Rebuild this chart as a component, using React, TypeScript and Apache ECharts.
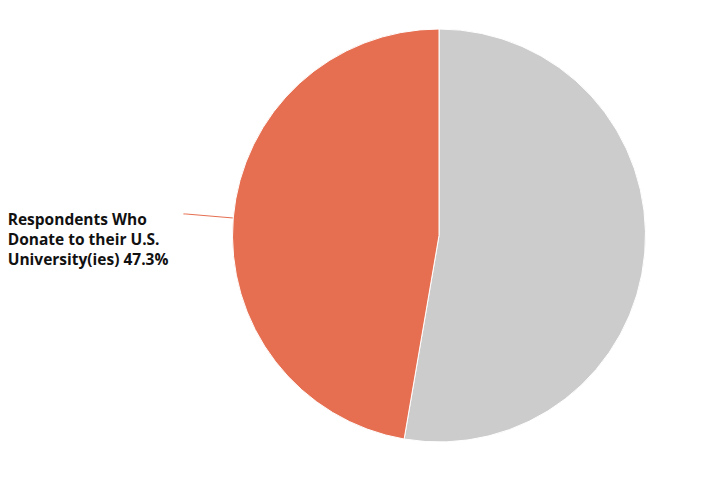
import * as echarts from "echarts";
import { useEffect, useRef } from "react";

const SLICE_NAMES = ["Other Respondents", "Respondents Who Donate to their U.S. University(ies)"];
const SLICE_VALUES = [52.7, 47.3];
const SLICE_COLORS = ["#cccccc", "#e66f51"];
/** 只有第二块显示标签，手动断行。 */
const LABEL_LINES = ["Respondents Who", "Donate to their U.S.", "University(ies) 47.3%"];

export default function App() {
  const chartRef = useRef<HTMLDivElement | null>(null);

  useEffect(() => {
    const el = chartRef.current;
    if (!el) {
      return undefined;
    }
    const chart = echarts.init(el, undefined, { renderer: "svg" });
    chart.setOption({
      animation: false,
      series: [
        {
          type: "pie",
          center: [439, 235.5],
          radius: 206.5,
          startAngle: 90,
          clockwise: true,
          avoidLabelOverlap: false,
          itemStyle: { borderColor: "#ffffff", borderWidth: 1 },
          data: SLICE_NAMES.map((name, i) => ({
            name,
            value: SLICE_VALUES[i],
            itemStyle: { color: SLICE_COLORS[i] },
            label: { show: i === 1 },
            labelLine: { show: i === 1 },
          })),
          label: {
            formatter: () => LABEL_LINES.map((l) => `{a|${l}}`).join("\n"),
            distanceToLabelLine: 15,
            padding: [50, 0, 0, 0],
            rich: {
              a: {
                fontFamily: "Open Sans",
                fontWeight: "bold",
                fontSize: 15.5,
                lineHeight: 20,
                color: "#111111",
                align: "left",
              },
            },
          },
          labelLine: {
            length: 48,
            length2: 2,
            lineStyle: { color: "#e66f51", width: 1 },
          },
        },
      ],
    });
    return () => chart.dispose();
  }, []);

  return (
    <div
      ref={chartRef}
      style={{ position: "fixed", left: 0, top: 0, width: 708, height: 502, background: "#ffffff" }}
    />
  );
}
